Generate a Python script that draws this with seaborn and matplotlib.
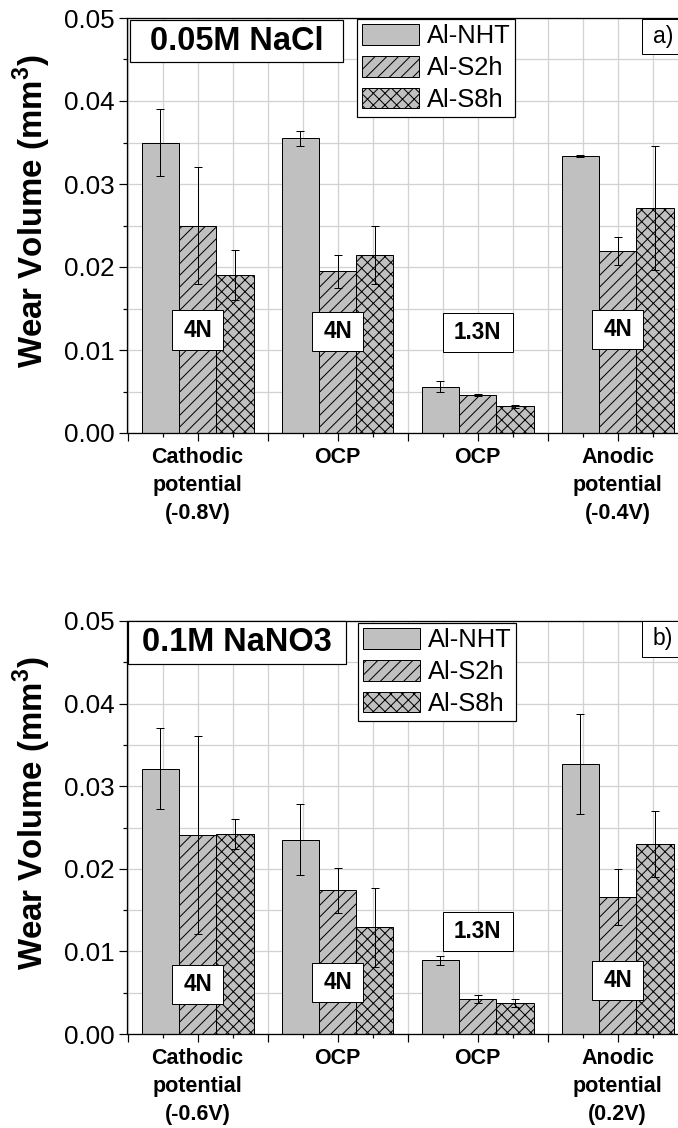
import numpy as np
import pandas as pd
import matplotlib
matplotlib.use("Agg")
import matplotlib.pyplot as plt
import seaborn as sns
from matplotlib.patches import Rectangle
from matplotlib.path import Path
from matplotlib.ticker import FixedLocator, MultipleLocator, FormatStrFormatter

# ---------------- data ----------------
samples = ["Al-NHT", "Al-S2h", "Al-S8h"]
groups = ["cathodic", "ocp_4N", "ocp_1.3N", "anodic"]
xlabels_a = ["Cathodic\npotential\n(-0.8V)", "OCP", "OCP", "Anodic\npotential\n(-0.4V)"]
xlabels_b = ["Cathodic\npotential\n(-0.6V)", "OCP", "OCP", "Anodic\npotential\n(0.2V)"]
loads = ["4N", "4N", "1.3N", "4N"]

nacl_nht = [0.0350, 0.0355, 0.0056, 0.0334]
nacl_s2h = [0.0250, 0.0195, 0.00454, 0.0219]
nacl_s8h = [0.0190, 0.0214, 0.0032, 0.0271]
nacl_nht_err = [0.0040, 0.0009, 0.0007, 0.0001]
nacl_s2h_err = [0.0070, 0.0020, 0.0001, 0.0017]
nacl_s8h_err = [0.0030, 0.0035, 0.0002, 0.0075]

nano3_nht = [0.0321, 0.0235, 0.0089, 0.0327]
nano3_s2h = [0.0241, 0.0174, 0.0042, 0.0166]
nano3_s8h = [0.0242, 0.0129, 0.00375, 0.0230]
nano3_nht_err = [0.0049, 0.0043, 0.0005, 0.0061]
nano3_s2h_err = [0.0120, 0.0027, 0.0005, 0.0034]
nano3_s8h_err = [0.0018, 0.0048, 0.00045, 0.0040]

# ---------------- style ----------------
sns.set_theme(style="white")
plt.rcParams["font.family"] = ["Liberation Sans", "DejaVu Sans"]
plt.rcParams["mathtext.fontset"] = "custom"
plt.rcParams["mathtext.rm"] = "Liberation Sans"
plt.rcParams["mathtext.bf"] = "Liberation Sans:bold"
plt.rcParams["hatch.color"] = "black"
for key in ["text.color", "axes.labelcolor", "xtick.color", "ytick.color",
            "axes.edgecolor"]:
    plt.rcParams[key] = "black"

DPI = 70
W, H = 678, 1128


def pt(px):
    return px * 72.0 / DPI


plt.rcParams["hatch.linewidth"] = pt(1.0)

BAR = "#c0c0c0"
HATCHES = ["", "//", "xx"]
GRID = "#d2d2d2"

fig = plt.figure(figsize=(W / DPI, H / DPI), dpi=DPI)
fig.patch.set_facecolor("white")


def add_axes(geom):
    l, r, t, b = geom
    return fig.add_axes([l / W, 1 - b / H, (r - l) / W, (b - t) / H])


def fr(geom, x, y):
    l, r, t, b = geom
    return (x - l) / (r - l), (b - y) / (b - t)


def padded_box(padx, pady):
    def box(x0, y0, width, height, mutation_size):
        px = padx * mutation_size
        py = pady * mutation_size
        xa, ya = x0 - px, y0 - py
        xb, yb = x0 + width + px, y0 + height + py
        return Path([(xa, ya), (xb, ya), (xb, yb), (xa, yb), (xa, ya)], closed=True)
    return box


def draw_panel(geom, nht, s2h, s8h, errs, xlabels, load_y, title, title_box, tag, tag_box, legend_top):
    ax = add_axes(geom)
    df = pd.DataFrame({
        "group": groups * 3,
        "sample": np.repeat(samples, len(groups)),
        "value": nht + s2h + s8h,
    })
    sns.barplot(data=df, x="group", y="value", hue="sample", order=groups,
                hue_order=samples, palette=[BAR] * 3, saturation=1,
                edgecolor="black", linewidth=pt(1.0), errorbar=None, width=0.8,
                ax=ax, zorder=2)
    bar_conts = list(ax.containers[:3])
    for cont, hatch, err in zip(bar_conts, HATCHES, errs):
        xs, ys = [], []
        for p in cont:
            p.set_hatch(hatch)
            xs.append(p.get_x() + p.get_width() / 2)
            ys.append(p.get_height())
        ax.errorbar(xs, ys, yerr=err, fmt="none", ecolor="black",
                    elinewidth=pt(1.0), capsize=pt(3.6), capthick=pt(1.0), zorder=3)

    if ax.get_legend() is not None:
        ax.get_legend().remove()

    ax.set_xlim(-0.5, 3.5)
    ax.set_ylim(0, 0.05)
    ax.set_axisbelow(True)

    # ticks
    majors = [-0.5 + 0.5 * k for k in range(9)]
    ax.xaxis.set_major_locator(FixedLocator(majors))
    labs = []
    for m in majors:
        if abs(m - round(m)) < 1e-9 and 0 <= round(m) < 4:
            labs.append(xlabels[int(round(m))])
        else:
            labs.append("")
    ax.set_xticklabels(labs, fontsize=pt(21.5), fontweight="bold", linespacing=1.45,
                       color="black")
    ax.xaxis.set_minor_locator(FixedLocator([i + d for i in range(4) for d in (-0.25, 0.25)]))
    ax.yaxis.set_major_locator(MultipleLocator(0.01))
    ax.yaxis.set_minor_locator(MultipleLocator(0.005))
    ax.yaxis.set_major_formatter(FormatStrFormatter("%.2f"))
    ax.tick_params(axis="both", which="major", direction="out", length=pt(8),
                   width=pt(1.2), color="black", labelcolor="black")
    ax.tick_params(axis="both", which="minor", direction="out", length=pt(4),
                   width=pt(1.2), color="black")
    ax.tick_params(axis="y", which="major", labelsize=pt(26), pad=pt(5))
    ax.tick_params(axis="x", which="major", pad=pt(6))
    ax.tick_params(axis="both", which="both", bottom=True, left=True)

    ax.grid(True, which="both", color=GRID, linewidth=pt(1.3))
    for s in ["left", "bottom", "top", "right"]:
        ax.spines[s].set_color("black")
        ax.spines[s].set_linewidth(pt(1.3))
        ax.spines[s].set_visible(True)

    ax.set_xlabel("")
    ax.set_ylabel(r"Wear Volume (mm$^{\mathbf{3}}$)", fontsize=pt(33),
                  fontweight="bold", color="black")
    ax.yaxis.set_label_coords(*fr(geom, 53, (geom[2] + geom[3]) / 2 - 14))

    # load labels
    for i, (lab, y) in enumerate(zip(loads, load_y)):
        ax.text(i, y, lab, ha="center", va="center", fontsize=pt(22.5),
                fontweight="bold", color="black", zorder=5,
                bbox=dict(boxstyle=padded_box(0.5, 0.36), fc="white", ec="black",
                          lw=pt(1.0)))

    # title box
    x0, y0, x1, y1 = title_box
    a0 = fr(geom, x0, y1)
    a1 = fr(geom, x1, y0)
    ax.add_patch(Rectangle(a0, a1[0] - a0[0], a1[1] - a0[1], transform=ax.transAxes,
                           fc="white", ec="black", lw=pt(1.2), zorder=6, clip_on=False))
    c = fr(geom, (x0 + x1) / 2, (y0 + y1) / 2)
    ax.text(c[0], c[1], title, transform=ax.transAxes, ha="center", va="center",
            fontsize=pt(32.5), fontweight="bold", color="black", zorder=7)

    # tag box
    x0, y0, x1, y1 = tag_box
    a0 = fr(geom, x0, y1)
    a1 = fr(geom, x1, y0)
    ax.add_patch(Rectangle(a0, a1[0] - a0[0], a1[1] - a0[1], transform=ax.transAxes,
                           fc="white", ec="black", lw=pt(1.0), zorder=6, clip_on=False))
    c = fr(geom, x0 + 11, (y0 + y1) / 2)
    ax.text(c[0], c[1], tag, transform=ax.transAxes, ha="left", va="center",
            fontsize=pt(23), color="black", zorder=7)

    # legend
    lx, ly = fr(geom, legend_top[0], legend_top[1])
    leg = ax.legend(handles=[c[0] for c in bar_conts], labels=samples,
                    loc="upper left", bbox_to_anchor=(lx, ly), borderaxespad=0,
                    fontsize=pt(25.5), frameon=True, fancybox=False, framealpha=1,
                    edgecolor="black", handlelength=2.25, handleheight=0.87,
                    handletextpad=0.28, labelspacing=0.3, borderpad=0.2,
                    labelcolor="black")
    leg.get_frame().set_linewidth(pt(1.2))
    leg.set_zorder(8)
    return ax


geom_a = (127.5, 687.5, 18, 433)
geom_b = (127.5, 687.5, 621, 1034)

draw_panel(geom_a, nacl_nht, nacl_s2h, nacl_s8h,
           [nacl_nht_err, nacl_s2h_err, nacl_s8h_err], xlabels_a,
           [0.0124, 0.0122, 0.0121, 0.0125], "0.05M NaCl",
           (130, 20, 343, 62), "a)", (642, 19, 700, 54), (357, 19))

draw_panel(geom_b, nano3_nht, nano3_s2h, nano3_s8h,
           [nano3_nht_err, nano3_s2h_err, nano3_s8h_err], xlabels_b,
           [0.0060, 0.0062, 0.0124, 0.0065], "0.1M NaNO3",
           (128, 621, 346, 664), "b)", (642, 621, 700, 657), (358, 623))

fig.savefig("out.png", dpi=DPI, facecolor="white")
